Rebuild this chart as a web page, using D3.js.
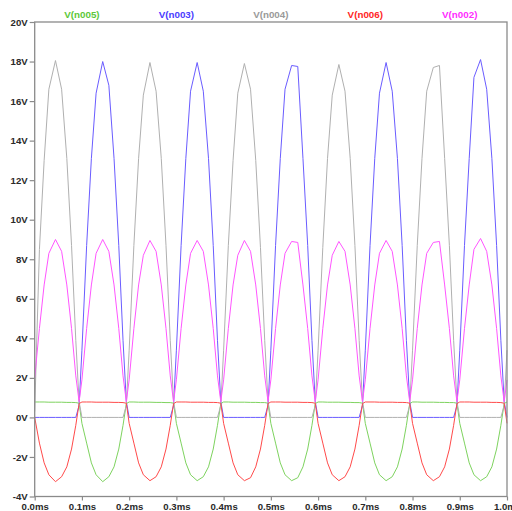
<!DOCTYPE html>
<html>
<head>
<meta charset="utf-8">
<script src="https://cdn.jsdelivr.net/npm/d3@7"></script>
<style>
  html, body { margin: 0; padding: 0; background: #fff; }
  svg text { font-family: "Liberation Sans", Arial, sans-serif; font-weight: bold; }
</style>
</head>
<body>
<svg id="chart" width="512" height="511"></svg>
<script>
// sample times in ms: ten points per half cycle, plus the end point
const halfOffsets = [0.000, 0.010, 0.020, 0.030, 0.044, 0.057, 0.068, 0.078, 0.087, 0.094];
const times = [];
for (let h = 0; h < 10; h++) halfOffsets.forEach(o => times.push(+(h * 0.1 + o).toFixed(3)));
times.push(1.0);

const seriesNames = ['V(n005)', 'V(n003)', 'V(n004)', 'V(n006)', 'V(n002)'];
const seriesColors = ['#5cc83a', '#4a3cff', '#9a9a9a', '#ff2626', '#ff2cff'];
const traceColors = ['#7ed35f', '#6a5cff', '#b0b0b0', '#ff4a4a', '#ff55ff'];

// values, one line per half cycle (0.1ms)
const vN005 = [
  0.78, 0.78, 0.78, 0.77, 0.77, 0.77, 0.76, 0.76, 0.75, 0.72,
  -0.3, -1.3, -2.3, -2.9, -3.25, -3.0, -2.5, -1.6, -0.4, 0.70,
  0.78, 0.78, 0.77, 0.77, 0.77, 0.76, 0.76, 0.75, 0.75, 0.72,
  -0.3, -1.3, -2.3, -2.9, -3.2, -3.0, -2.5, -1.6, -0.4, 0.70,
  0.78, 0.78, 0.77, 0.77, 0.77, 0.76, 0.76, 0.75, 0.75, 0.72,
  -0.3, -1.3, -2.3, -2.9, -3.2, -3.05, -2.5, -1.6, -0.4, 0.70,
  0.78, 0.78, 0.77, 0.77, 0.77, 0.76, 0.76, 0.75, 0.75, 0.72,
  -0.3, -1.3, -2.3, -2.9, -3.2, -3.0, -2.5, -1.6, -0.4, 0.70,
  0.78, 0.78, 0.77, 0.77, 0.77, 0.76, 0.76, 0.75, 0.75, 0.72,
  -0.3, -1.3, -2.3, -2.9, -3.2, -3.0, -2.5, -1.6, -0.4, 0.70,
  0.78
];
const vN003 = [
  0, 0, 0, 0, 0, 0, 0, 0, 0, 0.6,
  3.4, 8.7, 13.1, 16.4, 18.0, 16.8, 13.1, 8.7, 3.9, 0.8,
  0, 0, 0, 0, 0, 0, 0, 0, 0, 0.6,
  3.4, 8.7, 13.1, 16.5, 17.95, 16.5, 13.1, 8.7, 3.9, 0.8,
  0, 0, 0, 0, 0, 0, 0, 0, 0, 0.6,
  3.4, 8.7, 13.1, 16.6, 17.8, 17.75, 13.1, 8.7, 3.9, 0.8,
  0, 0, 0, 0, 0, 0, 0, 0, 0, 0.6,
  3.4, 8.7, 13.1, 16.4, 17.95, 16.5, 13.1, 8.7, 3.9, 0.8,
  0, 0, 0, 0, 0, 0, 0, 0, 0, 0.6,
  3.4, 8.7, 13.1, 17.2, 18.1, 16.6, 13.1, 8.7, 3.9, 0.8,
  0
];
const vN004 = [
  0.3, 8.5, 13.0, 16.6, 18.05, 16.6, 13.1, 8.7, 3.9, 0.8,
  0, 0, 0, 0, 0, 0, 0, 0, 0, 0.6,
  3.4, 8.7, 13.1, 16.3, 17.95, 16.5, 13.1, 8.7, 3.9, 0.8,
  0, 0, 0, 0, 0, 0, 0, 0, 0, 0.6,
  3.4, 8.7, 13.0, 16.4, 17.9, 16.6, 13.0, 8.6, 3.9, 0.8,
  0, 0, 0, 0, 0, 0, 0, 0, 0, 0.6,
  3.4, 8.6, 13.1, 16.3, 17.85, 16.5, 13.1, 8.7, 3.9, 0.8,
  0, 0, 0, 0, 0, 0, 0, 0, 0, 0.6,
  3.4, 8.7, 13.1, 16.5, 17.7, 17.8, 13.1, 8.7, 3.9, 0.8,
  0, 0, 0, 0, 0, 0, 0, 0, 0, 0.6,
  3.4
];
const vN006 = [
  0, -1.3, -2.3, -2.9, -3.25, -3.0, -2.5, -1.6, -0.4, 0.70,
  0.78, 0.78, 0.78, 0.77, 0.77, 0.77, 0.76, 0.76, 0.75, 0.72,
  -0.3, -1.3, -2.3, -2.9, -3.2, -3.0, -2.5, -1.6, -0.4, 0.70,
  0.78, 0.78, 0.78, 0.77, 0.77, 0.77, 0.76, 0.76, 0.75, 0.72,
  -0.3, -1.3, -2.3, -2.9, -3.2, -3.05, -2.5, -1.6, -0.4, 0.70,
  0.78, 0.78, 0.78, 0.77, 0.77, 0.77, 0.76, 0.76, 0.75, 0.72,
  -0.3, -1.3, -2.3, -2.9, -3.2, -3.0, -2.5, -1.6, -0.4, 0.70,
  0.78, 0.78, 0.78, 0.77, 0.77, 0.77, 0.76, 0.76, 0.75, 0.72,
  -0.3, -1.3, -2.3, -2.9, -3.2, -3.0, -2.5, -1.6, -0.4, 0.70,
  0.78, 0.78, 0.78, 0.77, 0.77, 0.77, 0.76, 0.76, 0.75, 0.72,
  -0.3
];
const vN002 = [
  2.0, 4.5, 6.7, 8.3, 9.0, 8.4, 6.7, 4.5, 2.1, 0.8,
  1.9, 4.5, 6.7, 8.3, 9.0, 8.4, 6.7, 4.5, 2.1, 0.8,
  1.9, 4.5, 6.7, 8.2, 8.95, 8.4, 6.7, 4.5, 2.1, 0.8,
  1.9, 4.5, 6.7, 8.3, 8.95, 8.4, 6.7, 4.5, 2.1, 0.8,
  1.9, 4.5, 6.7, 8.2, 8.95, 8.4, 6.7, 4.5, 2.1, 0.8,
  1.9, 4.5, 6.7, 8.3, 8.9, 8.85, 6.7, 4.5, 2.1, 0.8,
  1.9, 4.5, 6.7, 8.2, 8.9, 8.4, 6.7, 4.5, 2.1, 0.8,
  1.9, 4.5, 6.7, 8.3, 8.95, 8.4, 6.7, 4.5, 2.1, 0.8,
  1.9, 4.5, 6.7, 8.3, 8.85, 8.9, 6.7, 4.5, 2.1, 0.8,
  1.9, 4.5, 6.7, 8.5, 9.05, 8.4, 6.7, 4.5, 2.1, 0.8,
  1.9
];
const seriesValues = [vN005, vN003, vN004, vN006, vN002];

const xTicks = [0, 0.1, 0.2, 0.3, 0.4, 0.5, 0.6, 0.7, 0.8, 0.9, 1.0];
const yTicks = [-4, -2, 0, 2, 4, 6, 8, 10, 12, 14, 16, 18, 20];

const margin = { top: 22, right: 5, bottom: 14.5, left: 34.7 };
const width = 512, height = 511;

const svg = d3.select('#chart');

const x = d3.scaleLinear().domain([0, 1]).range([margin.left, width - margin.right]);
const y = d3.scaleLinear().domain([-4, 20]).range([height - margin.bottom, margin.top]);

// traces
const line = d3.line()
    .x((d, i) => x(times[i]))
    .y(d => y(d));

seriesValues.forEach((vals, i) => {
    svg.append('path')
        .datum(vals)
        .attr('d', line)
        .attr('fill', 'none')
        .attr('stroke', traceColors[i])
        .attr('stroke-width', 1)
        .attr('stroke-linejoin', 'round');
});

// frame
svg.append('rect')
    .attr('x', x(0))
    .attr('y', y(20))
    .attr('width', x(1) - x(0))
    .attr('height', y(-4) - y(20))
    .attr('fill', 'none')
    .attr('stroke', '#8a8a8a')
    .attr('stroke-width', 1.3);

// axes
const yAxis = d3.axisLeft(y)
    .tickValues(yTicks)
    .tickSize(5)
    .tickPadding(2)
    .tickFormat(d => `${d}V`);
const yG = svg.append('g').attr('transform', `translate(${x(0)},0)`).call(yAxis);

const xAxis = d3.axisBottom(x)
    .tickValues(xTicks)
    .tickSize(4)
    .tickPadding(3)
    .tickFormat(d => `${d.toFixed(1)}ms`);
const xG = svg.append('g').attr('transform', `translate(0,${y(-4)})`).call(xAxis);

[yG, xG].forEach(g => {
    g.select('.domain').remove();
    g.selectAll('.tick line').attr('stroke', '#8a8a8a').attr('stroke-width', 1.2);
    g.selectAll('.tick text')
        .attr('fill', '#2a2a2a')
        .style('font-size', '9.6px');
});

// legend across the top
const slot = (x(1) - x(0)) / seriesNames.length;
svg.selectAll('text.legend')
    .data(seriesNames)
    .join('text')
    .attr('class', 'legend')
    .attr('x', (d, i) => x(0) + slot * (i + 0.5))
    .attr('y', 15)
    .attr('dy', '0.35em')
    .attr('text-anchor', 'middle')
    .attr('fill', (d, i) => seriesColors[i])
    .style('font-size', '9.8px')
    .text(d => d);
</script>
</body>
</html>
